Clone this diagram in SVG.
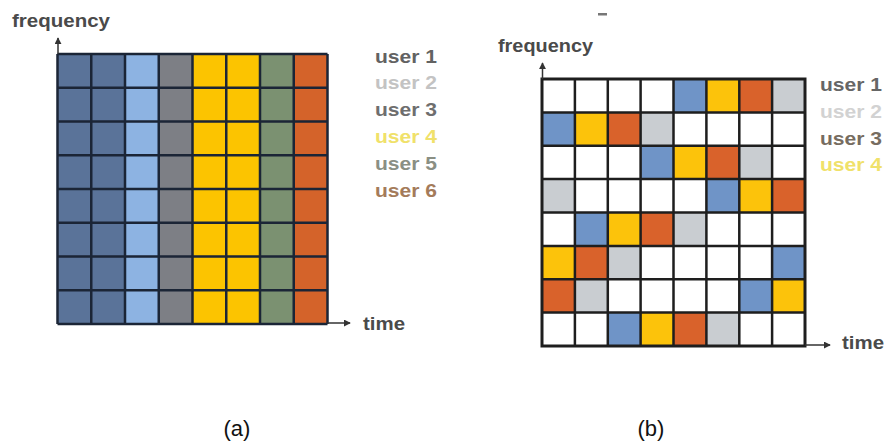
<svg xmlns="http://www.w3.org/2000/svg" width="884" height="447" viewBox="0 0 884 447">
  <style>
    .axis-title { font-family: "Liberation Sans", Arial, sans-serif; font-weight: bold; font-size: 18px; fill: #4a4a4a; }
    .legend { font-family: "Liberation Sans", Arial, sans-serif; font-weight: bold; font-size: 19px; }
    .caption { font-family: "Liberation Sans", Arial, sans-serif; font-size: 22px; fill: #111; text-anchor: middle; }
    .axis { stroke: #333; stroke-width: 1.5; fill: none; }
    .gridA { stroke: #1b2536; stroke-width: 2.5; fill: none; }
    .gridB { stroke: #1e1e1e; stroke-width: 2.5; fill: none; }
    .frame { stroke: #1e1e1e; stroke-width: 3; fill: none; }
    .u1 { fill: #5a7399; } .u2 { fill: #8db3e2; } .u3 { fill: #7d7f85; }
    .u4 { fill: #fcc400; } .u5 { fill: #7b9171; } .u6 { fill: #d4632a; }
    .bl { fill: #6f94c7; } .ye { fill: #fcc30b; } .or { fill: #d9622b; } .gr { fill: #c9cdd1; }
  </style>
  <defs>
    <marker id="arrow" viewBox="0 0 8 8" refX="7" refY="4" markerWidth="7" markerHeight="7" markerUnits="userSpaceOnUse" orient="auto">
      <path d="M0,0 L8,4 L0,8 Z" fill="#333"/>
    </marker>
  </defs>

  <!-- Panel (a): each user owns whole frequency columns -->
  <g id="panel-a">
    <g id="cells-a">
      <rect class="u1" x="57.5" y="54" width="67.5" height="270"/>
      <rect class="u2" x="125" y="54" width="33.75" height="270"/>
      <rect class="u3" x="158.75" y="54" width="33.75" height="270"/>
      <rect class="u4" x="192.5" y="54" width="67.5" height="270"/>
      <rect class="u5" x="260" y="54" width="33.75" height="270"/>
      <rect class="u6" x="293.75" y="54" width="33.75" height="270"/>
    </g>
    <path class="gridA" d="M57.5,54 H327.5 M57.5,87.75 H327.5 M57.5,121.5 H327.5 M57.5,155.25 H327.5 M57.5,189 H327.5 M57.5,222.75 H327.5 M57.5,256.5 H327.5 M57.5,290.25 H327.5 M57.5,324 H327.5
      M57.5,54 V324 M91.25,54 V324 M125,54 V324 M158.75,54 V324 M192.5,54 V324 M226.25,54 V324 M260,54 V324 M293.75,54 V324 M327.5,54 V324"/>
    <g id="axes-a">
      <line class="axis" x1="58" y1="54" x2="58" y2="38" marker-end="url(#arrow)"/>
      <line class="axis" x1="327.5" y1="323" x2="350" y2="323" marker-end="url(#arrow)"/>
      <text class="axis-title" x="12" y="27" textLength="98" lengthAdjust="spacingAndGlyphs">frequency</text>
      <text class="axis-title" x="363" y="330" textLength="42" lengthAdjust="spacingAndGlyphs">time</text>
    </g>
    <g id="legend-a" class="legend">
      <text x="375" y="63" fill="#626262" textLength="62" lengthAdjust="spacingAndGlyphs">user 1</text>
      <text x="375" y="89" fill="#c3c3c3" textLength="62" lengthAdjust="spacingAndGlyphs">user 2</text>
      <text x="375" y="116" fill="#6e6e6e" textLength="62" lengthAdjust="spacingAndGlyphs">user 3</text>
      <text x="375" y="143" fill="#f0e16a" textLength="62" lengthAdjust="spacingAndGlyphs">user 4</text>
      <text x="375" y="170" fill="#8a8f84" textLength="62" lengthAdjust="spacingAndGlyphs">user 5</text>
      <text x="375" y="197" fill="#a47b5a" textLength="62" lengthAdjust="spacingAndGlyphs">user 6</text>
    </g>
    <text class="caption" x="237" y="436">(a)</text>
  </g>

  <!-- Panel (b): users hop across frequency slots over time -->
  <g id="panel-b">
    <rect x="542" y="79" width="263" height="267" fill="#fff"/>
    <!-- cells in unit grid coordinates: column, row -->
    <g id="cells-b" transform="translate(542,79) scale(32.875,33.375)">
      <rect class="bl" x="4" y="0" width="1" height="1"/><rect class="ye" x="5" y="0" width="1" height="1"/><rect class="or" x="6" y="0" width="1" height="1"/><rect class="gr" x="7" y="0" width="1" height="1"/>
      <rect class="bl" x="0" y="1" width="1" height="1"/><rect class="ye" x="1" y="1" width="1" height="1"/><rect class="or" x="2" y="1" width="1" height="1"/><rect class="gr" x="3" y="1" width="1" height="1"/>
      <rect class="bl" x="3" y="2" width="1" height="1"/><rect class="ye" x="4" y="2" width="1" height="1"/><rect class="or" x="5" y="2" width="1" height="1"/><rect class="gr" x="6" y="2" width="1" height="1"/>
      <rect class="gr" x="0" y="3" width="1" height="1"/><rect class="bl" x="5" y="3" width="1" height="1"/><rect class="ye" x="6" y="3" width="1" height="1"/><rect class="or" x="7" y="3" width="1" height="1"/>
      <rect class="bl" x="1" y="4" width="1" height="1"/><rect class="ye" x="2" y="4" width="1" height="1"/><rect class="or" x="3" y="4" width="1" height="1"/><rect class="gr" x="4" y="4" width="1" height="1"/>
      <rect class="ye" x="0" y="5" width="1" height="1"/><rect class="or" x="1" y="5" width="1" height="1"/><rect class="gr" x="2" y="5" width="1" height="1"/><rect class="bl" x="7" y="5" width="1" height="1"/>
      <rect class="or" x="0" y="6" width="1" height="1"/><rect class="gr" x="1" y="6" width="1" height="1"/><rect class="bl" x="6" y="6" width="1" height="1"/><rect class="ye" x="7" y="6" width="1" height="1"/>
      <rect class="bl" x="2" y="7" width="1" height="1"/><rect class="ye" x="3" y="7" width="1" height="1"/><rect class="or" x="4" y="7" width="1" height="1"/><rect class="gr" x="5" y="7" width="1" height="1"/>
    </g>
    <path class="gridB" d="M542,112.4 H805 M542,145.8 H805 M542,179.1 H805 M542,212.5 H805 M542,245.9 H805 M542,279.3 H805 M542,312.6 H805
      M574.9,79 V346 M607.8,79 V346 M640.6,79 V346 M673.5,79 V346 M706.4,79 V346 M739.3,79 V346 M772.1,79 V346"/>
    <rect class="frame" x="542" y="79" width="263" height="267"/>
    <g id="axes-b">
      <line class="axis" x1="542.5" y1="79" x2="542.5" y2="63" marker-end="url(#arrow)"/>
      <line class="axis" x1="805" y1="345" x2="830" y2="345" marker-end="url(#arrow)"/>
      <text class="axis-title" x="498" y="52" textLength="95" lengthAdjust="spacingAndGlyphs">frequency</text>
      <text class="axis-title" x="842" y="349" textLength="42" lengthAdjust="spacingAndGlyphs">time</text>
    </g>
    <g id="legend-b" class="legend">
      <text x="820" y="91" fill="#666" textLength="62" lengthAdjust="spacingAndGlyphs">user 1</text>
      <text x="820" y="118" fill="#d2d2d2" textLength="62" lengthAdjust="spacingAndGlyphs">user 2</text>
      <text x="820" y="145" fill="#766c60" textLength="62" lengthAdjust="spacingAndGlyphs">user 3</text>
      <text x="820" y="171" fill="#f0e16a" textLength="62" lengthAdjust="spacingAndGlyphs">user 4</text>
    </g>
    <rect x="598" y="13" width="9" height="2.5" fill="#777"/>
    <text class="caption" x="651" y="436">(b)</text>
  </g>
</svg>
